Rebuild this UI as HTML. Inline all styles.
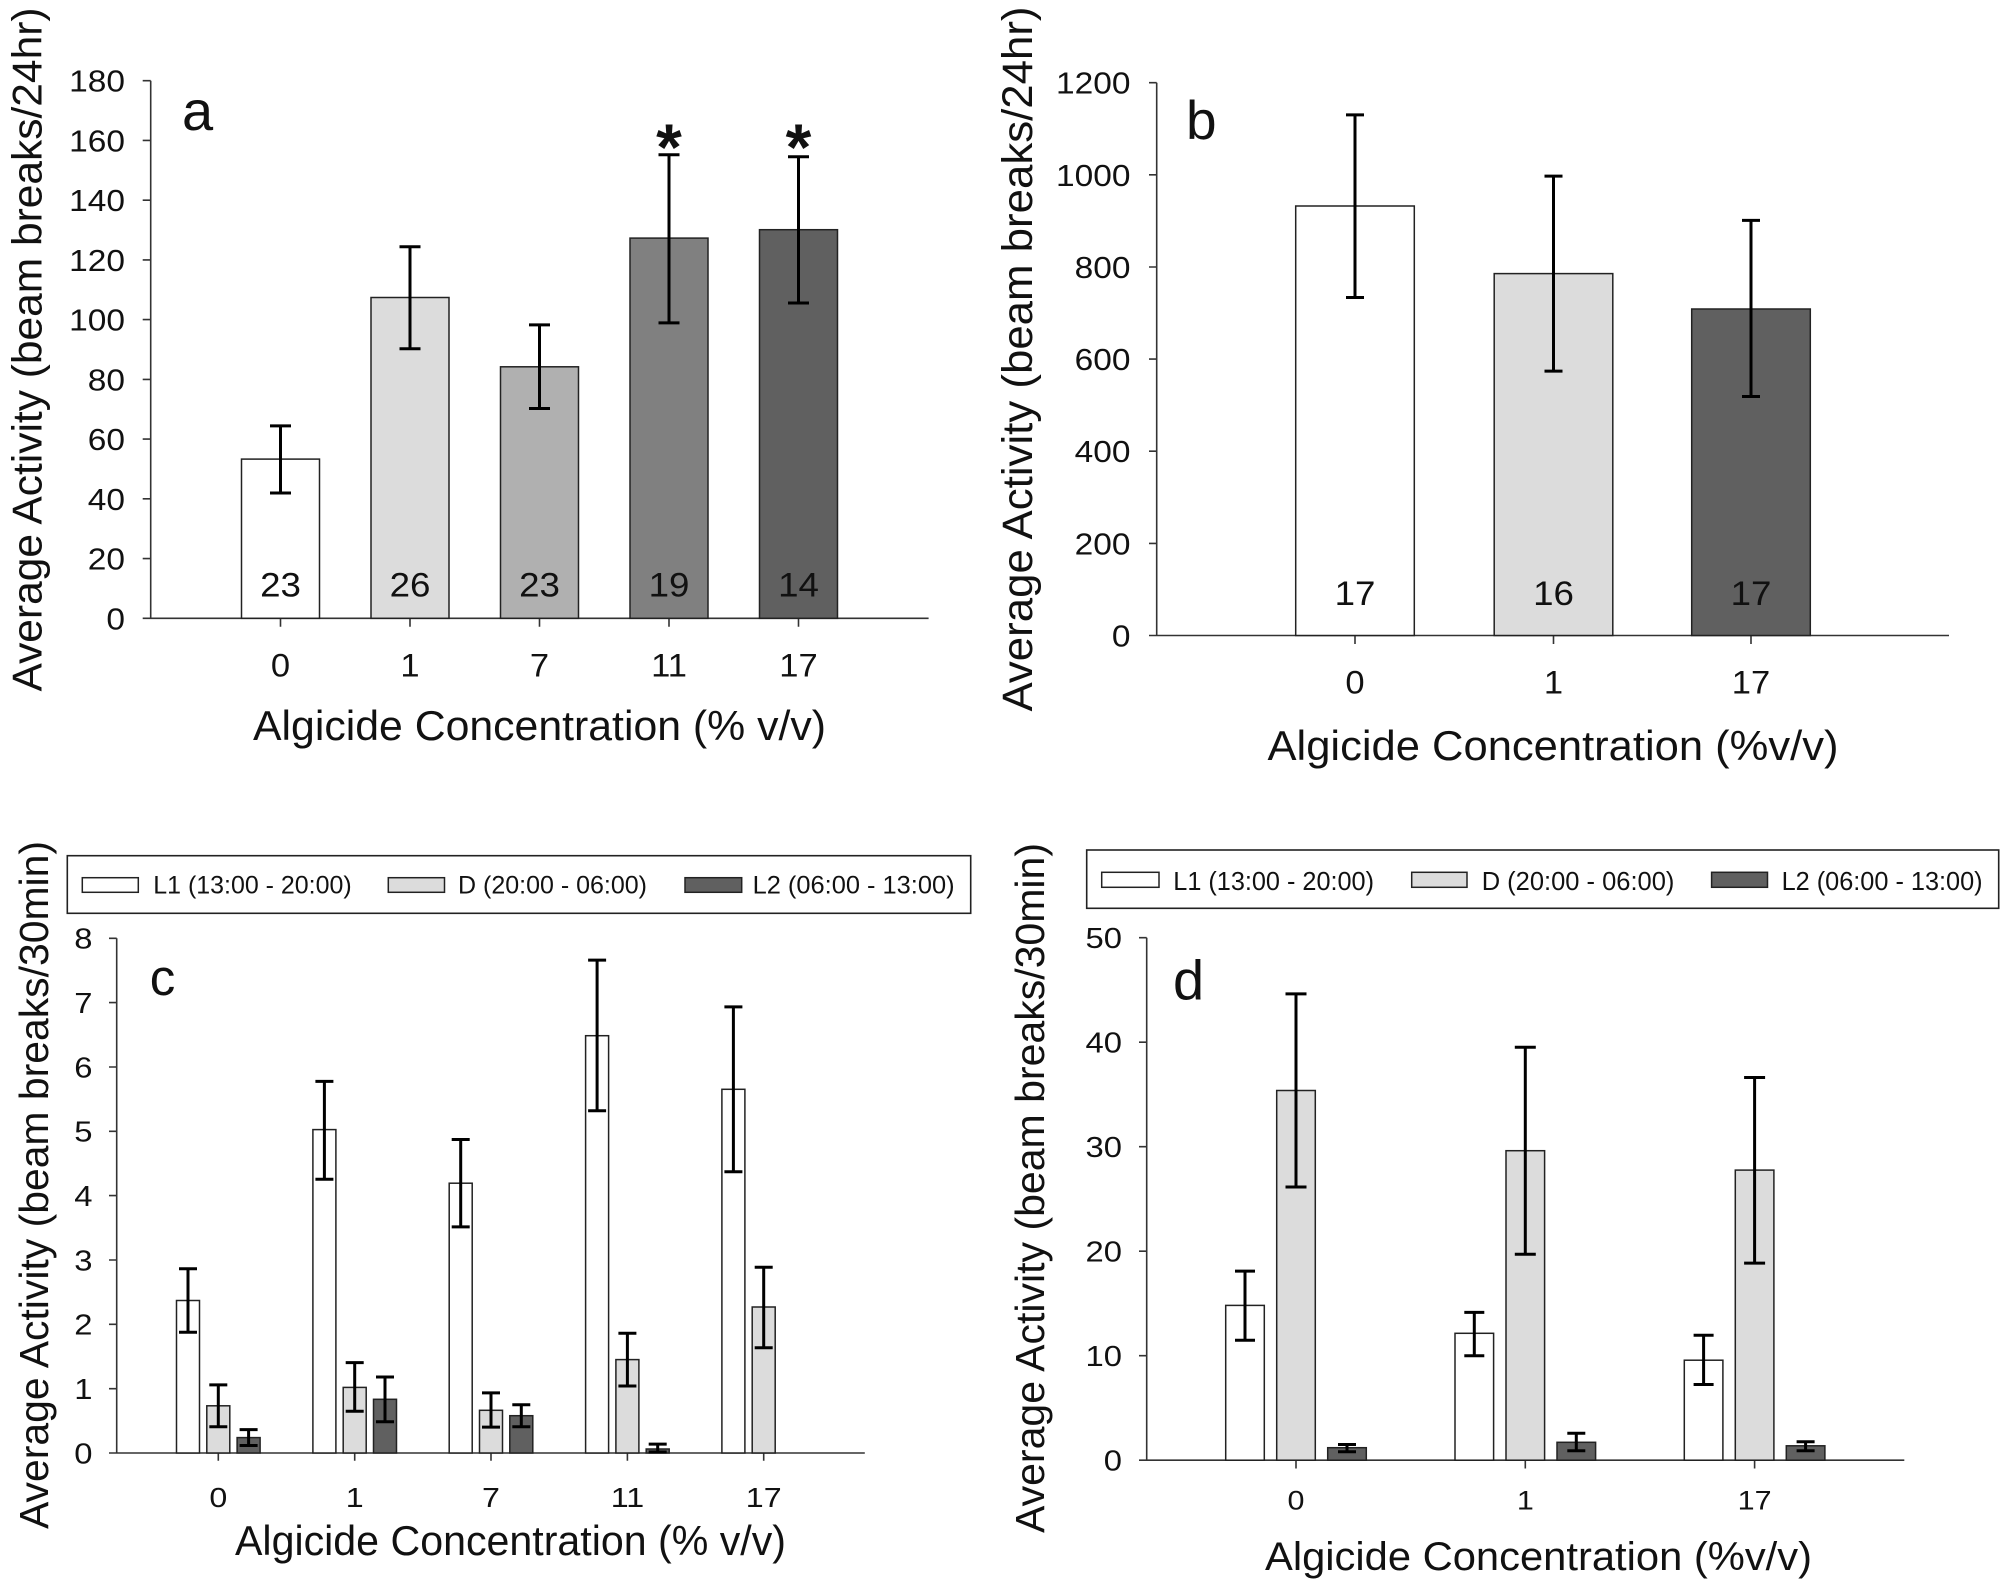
<!DOCTYPE html>
<html>
<head>
<meta charset="utf-8">
<style>
html,body{margin:0;padding:0;background:#fff;}
svg{display:block;}
text{font-family:"Liberation Sans",Arial,sans-serif;fill:#111;}
.ax{stroke:#333;stroke-width:1.6;fill:none;}
.bar{stroke:#222;stroke-width:1.5;}
.eb{stroke:#000;stroke-width:3;fill:none;}
</style>
</head>
<body>
<svg width="2007" height="1590" viewBox="0 0 2007 1590" xmlns="http://www.w3.org/2000/svg">
<rect x="0" y="0" width="2007" height="1590" fill="#fff"/>

<!-- ================= PANEL A ================= -->
<g>
<path class="ax" d="M150.7 80.7 V618.3 M142.7 618.3 H928.6
M142.7 618.3 H150.7 M142.7 558.6 H150.7 M142.7 498.8 H150.7 M142.7 439.1 H150.7 M142.7 379.4 H150.7 M142.7 319.6 H150.7 M142.7 259.9 H150.7 M142.7 200.2 H150.7 M142.7 140.4 H150.7 M142.7 80.7 H150.7
M280.5 618.3 V626.7 M410 618.3 V626.7 M539.5 618.3 V626.7 M669 618.3 V626.7 M798.5 618.3 V626.7"/>
<g transform="translate(125,0) scale(1.08,1)" font-size="31" text-anchor="end">
<text x="0" y="629.3">0</text>
<text x="0" y="569.6">20</text>
<text x="0" y="509.8">40</text>
<text x="0" y="450.1">60</text>
<text x="0" y="390.4">80</text>
<text x="0" y="330.6">100</text>
<text x="0" y="270.9">120</text>
<text x="0" y="211.2">140</text>
<text x="0" y="151.4">160</text>
<text x="0" y="91.7">180</text>
</g>
<g font-size="32" text-anchor="middle">
<text transform="translate(280.5,676.5) scale(1.08,1)">0</text>
<text transform="translate(410,676.5) scale(1.08,1)">1</text>
<text transform="translate(539.5,676.5) scale(1.08,1)">7</text>
<text transform="translate(669,676.5) scale(1.08,1)">11</text>
<text transform="translate(798.5,676.5) scale(1.08,1)">17</text>
</g>
<rect class="bar" x="241.5" y="459.1" width="78" height="159.2" fill="#ffffff"/>
<rect class="bar" x="371" y="297.5" width="78" height="320.8" fill="#dcdcdc"/>
<rect class="bar" x="500.5" y="366.8" width="78" height="251.5" fill="#b0b0b0"/>
<rect class="bar" x="630" y="238.1" width="78" height="380.2" fill="#808080"/>
<rect class="bar" x="759.5" y="229.7" width="78" height="388.6" fill="#606060"/>
<path class="eb" d="M280.5 425.9 V493 M270 425.9 H291 M270 493 H291
M410 246.8 V348.8 M399.5 246.8 H420.5 M399.5 348.8 H420.5
M539.5 324.9 V408.5 M529 324.9 H550 M529 408.5 H550
M669 154.7 V322.9 M658.5 154.7 H679.5 M658.5 322.9 H679.5
M798.5 156.7 V303 M788 156.7 H809 M788 303 H809"/>
<g font-size="34" text-anchor="middle">
<text transform="translate(280.5,596.7) scale(1.08,1)">23</text>
<text transform="translate(410,596.7) scale(1.08,1)">26</text>
<text transform="translate(539.5,596.7) scale(1.08,1)">23</text>
<text transform="translate(669,596.7) scale(1.08,1)">19</text>
<text transform="translate(798.5,596.7) scale(1.08,1)">14</text>
</g>
<text x="669" y="170" font-size="66" font-weight="bold" text-anchor="middle">*</text>
<text x="798.5" y="170" font-size="66" font-weight="bold" text-anchor="middle">*</text>
<text x="182" y="130" font-size="56">a</text>
<text transform="translate(41.7,349.5) rotate(-90)" font-size="42" text-anchor="middle" textLength="684" lengthAdjust="spacingAndGlyphs">Average Activity (beam breaks/24hr)</text>
<text x="539.5" y="740" font-size="42" text-anchor="middle" textLength="573" lengthAdjust="spacingAndGlyphs">Algicide Concentration (% v/v)</text>
</g>

<!-- ================= PANEL B ================= -->
<g>
<path class="ax" d="M1156.7 82.7 V635.5 M1149 635.5 H1949
M1149 635.5 H1156.7 M1149 543.4 H1156.7 M1149 451.2 H1156.7 M1149 359.1 H1156.7 M1149 267 H1156.7 M1149 174.8 H1156.7 M1149 82.7 H1156.7
M1355 635.5 V644 M1553.5 635.5 V644 M1751 635.5 V644"/>
<g transform="translate(1130.5,0) scale(1.08,1)" font-size="31" text-anchor="end">
<text x="0" y="646.5">0</text>
<text x="0" y="554.4">200</text>
<text x="0" y="462.2">400</text>
<text x="0" y="370.1">600</text>
<text x="0" y="278">800</text>
<text x="0" y="185.8">1000</text>
<text x="0" y="93.7">1200</text>
</g>
<g font-size="32" text-anchor="middle">
<text transform="translate(1355,693.5) scale(1.08,1)">0</text>
<text transform="translate(1553.5,693.5) scale(1.08,1)">1</text>
<text transform="translate(1751,693.5) scale(1.08,1)">17</text>
</g>
<rect class="bar" x="1295.7" y="206" width="118.6" height="429.5" fill="#ffffff"/>
<rect class="bar" x="1494.2" y="273.6" width="118.6" height="361.9" fill="#dcdcdc"/>
<rect class="bar" x="1691.7" y="309" width="118.6" height="326.5" fill="#606060"/>
<path class="eb" d="M1355 114.9 V297.5 M1346 114.9 H1364 M1346 297.5 H1364
M1553.5 176.1 V371.1 M1544.5 176.1 H1562.5 M1544.5 371.1 H1562.5
M1751 220.4 V396.5 M1742 220.4 H1760 M1742 396.5 H1760"/>
<g font-size="34" text-anchor="middle">
<text transform="translate(1355,605) scale(1.08,1)">17</text>
<text transform="translate(1553.5,605) scale(1.08,1)">16</text>
<text transform="translate(1751,605) scale(1.08,1)">17</text>
</g>
<text x="1186" y="139" font-size="55">b</text>
<text transform="translate(1032,359) rotate(-90)" font-size="43" text-anchor="middle" textLength="705" lengthAdjust="spacingAndGlyphs">Average Activity (beam breaks/24hr)</text>
<text x="1553" y="760" font-size="42" text-anchor="middle" textLength="571" lengthAdjust="spacingAndGlyphs">Algicide Concentration (%v/v)</text>
</g>

<!-- ================= PANEL C ================= -->
<g>
<rect x="67.3" y="855.7" width="903.4" height="57.6" fill="#fff" stroke="#222" stroke-width="1.6"/>
<rect class="bar" x="82.3" y="877.7" width="56" height="14.6" fill="#ffffff"/>
<rect class="bar" x="388.3" y="877.7" width="56.2" height="14.6" fill="#dcdcdc"/>
<rect class="bar" x="685" y="877.7" width="56.7" height="14.6" fill="#606060"/>
<g font-size="25">
<text x="153.3" y="893.3" textLength="198.4" lengthAdjust="spacingAndGlyphs">L1 (13:00 - 20:00)</text>
<text x="458" y="893.3" textLength="189" lengthAdjust="spacingAndGlyphs">D (20:00 - 06:00)</text>
<text x="752.6" y="893.3" textLength="202" lengthAdjust="spacingAndGlyphs">L2 (06:00 - 13:00)</text>
</g>
<path class="ax" d="M116.7 938.3 V1453 M109 1453 H864.8
M109 1453 H116.7 M109 1388.7 H116.7 M109 1324.3 H116.7 M109 1260 H116.7 M109 1195.6 H116.7 M109 1131.3 H116.7 M109 1067 H116.7 M109 1002.6 H116.7 M109 938.3 H116.7
M218.3 1453 V1460.7 M354.7 1453 V1460.7 M491 1453 V1460.7 M627.4 1453 V1460.7 M763.7 1453 V1460.7"/>
<g transform="translate(92.5,0) scale(1.15,1)" font-size="28.5" text-anchor="end">
<text x="0" y="1463.3">0</text>
<text x="0" y="1399">1</text>
<text x="0" y="1334.6">2</text>
<text x="0" y="1270.3">3</text>
<text x="0" y="1205.9">4</text>
<text x="0" y="1141.6">5</text>
<text x="0" y="1077.3">6</text>
<text x="0" y="1012.9">7</text>
<text x="0" y="948.6">8</text>
</g>
<g font-size="28" text-anchor="middle">
<text transform="translate(218.3,1507) scale(1.15,1)">0</text>
<text transform="translate(354.7,1507) scale(1.15,1)">1</text>
<text transform="translate(491,1507) scale(1.15,1)">7</text>
<text transform="translate(627.4,1507) scale(1.15,1)">11</text>
<text transform="translate(763.7,1507) scale(1.15,1)">17</text>
</g>
<!-- bars -->
<rect class="bar" x="176.5" y="1300.5" width="23" height="152.5" fill="#ffffff"/>
<rect class="bar" x="206.8" y="1405.8" width="23" height="47.2" fill="#dcdcdc"/>
<rect class="bar" x="237.1" y="1437.6" width="23" height="15.4" fill="#606060"/>

<rect class="bar" x="312.9" y="1129.6" width="23" height="323.4" fill="#ffffff"/>
<rect class="bar" x="343.2" y="1387.4" width="23" height="65.6" fill="#dcdcdc"/>
<rect class="bar" x="373.5" y="1399.3" width="23" height="53.7" fill="#606060"/>

<rect class="bar" x="449.2" y="1183.2" width="23" height="269.8" fill="#ffffff"/>
<rect class="bar" x="479.5" y="1410.3" width="23" height="42.7" fill="#dcdcdc"/>
<rect class="bar" x="509.8" y="1415.7" width="23" height="37.3" fill="#606060"/>

<rect class="bar" x="585.6" y="1035.7" width="23" height="417.3" fill="#ffffff"/>
<rect class="bar" x="615.9" y="1359.6" width="23" height="93.4" fill="#dcdcdc"/>
<rect class="bar" x="646.2" y="1449" width="23" height="4" fill="#606060"/>

<rect class="bar" x="721.9" y="1089.3" width="23" height="363.7" fill="#ffffff"/>
<rect class="bar" x="752.2" y="1307" width="23" height="146" fill="#dcdcdc"/>
<path class="eb" d="M188 1268.7 V1332.3 M179 1268.7 H197 M179 1332.3 H197
M218.3 1384.9 V1426.7 M209.3 1384.9 H227.3 M209.3 1426.7 H227.3
M248.6 1429.6 V1445.5 M239.6 1429.6 H257.6 M239.6 1445.5 H257.6
M324.4 1081.4 V1179.2 M315.4 1081.4 H333.4 M315.4 1179.2 H333.4
M354.7 1362.6 V1411.2 M345.7 1362.6 H363.7 M345.7 1411.2 H363.7
M385 1377 V1421.7 M376 1377 H394 M376 1421.7 H394
M460.7 1139.5 V1226.9 M451.7 1139.5 H469.7 M451.7 1226.9 H469.7
M491 1392.9 V1427.1 M482 1392.9 H500 M482 1427.1 H500
M521.3 1404.8 V1426.7 M512.3 1404.8 H530.3 M512.3 1426.7 H530.3
M597.1 960.1 V1110.7 M588.1 960.1 H606.1 M588.1 1110.7 H606.1
M627.4 1333.3 V1386 M618.4 1333.3 H636.4 M618.4 1386 H636.4
M657.7 1444.1 V1452 M648.7 1444.1 H666.7 M648.7 1452 H666.7
M733.4 1006.9 V1171.8 M724.4 1006.9 H742.4 M724.4 1171.8 H742.4
M763.7 1267.2 V1347.7 M754.7 1267.2 H772.7 M754.7 1347.7 H772.7"/>
<text x="149.7" y="995" font-size="51">c</text>
<text transform="translate(48,1185) rotate(-90)" font-size="41" text-anchor="middle" textLength="688" lengthAdjust="spacingAndGlyphs">Average Activity (beam breaks/30min)</text>
<text x="510.5" y="1555" font-size="41.5" text-anchor="middle" textLength="551" lengthAdjust="spacingAndGlyphs">Algicide Concentration (% v/v)</text>
</g>

<!-- ================= PANEL D ================= -->
<g>
<rect x="1086.7" y="850" width="912" height="58.3" fill="#fff" stroke="#222" stroke-width="1.6"/>
<rect class="bar" x="1101.7" y="872.3" width="57.3" height="15" fill="#ffffff"/>
<rect class="bar" x="1411.7" y="872.3" width="55.3" height="15" fill="#dcdcdc"/>
<rect class="bar" x="1711.6" y="872.3" width="55.9" height="15" fill="#606060"/>
<g font-size="25.5">
<text x="1173.3" y="890" textLength="200.7" lengthAdjust="spacingAndGlyphs">L1 (13:00 - 20:00)</text>
<text x="1481.7" y="890" textLength="192.7" lengthAdjust="spacingAndGlyphs">D (20:00 - 06:00)</text>
<text x="1781.6" y="890" textLength="201" lengthAdjust="spacingAndGlyphs">L2 (06:00 - 13:00)</text>
</g>
<path class="ax" d="M1146.7 937.7 V1460.2 M1139 1460.2 H1904.3
M1139 1460.2 H1146.7 M1139 1355.7 H1146.7 M1139 1251.2 H1146.7 M1139 1146.7 H1146.7 M1139 1042.2 H1146.7 M1139 937.7 H1146.7
M1296 1460.2 V1468.5 M1525.3 1460.2 V1468.5 M1754.6 1460.2 V1468.5"/>
<g transform="translate(1122,0) scale(1.15,1)" font-size="28.5" text-anchor="end">
<text x="0" y="1470.5">0</text>
<text x="0" y="1366">10</text>
<text x="0" y="1261.5">20</text>
<text x="0" y="1157">30</text>
<text x="0" y="1052.5">40</text>
<text x="0" y="948">50</text>
</g>
<g font-size="26.5" text-anchor="middle">
<text transform="translate(1296,1509.5) scale(1.15,1)">0</text>
<text transform="translate(1525.3,1509.5) scale(1.15,1)">1</text>
<text transform="translate(1754.6,1509.5) scale(1.15,1)">17</text>
</g>
<rect class="bar" x="1225.7" y="1305.4" width="38.6" height="154.8" fill="#ffffff"/>
<rect class="bar" x="1276.7" y="1090.5" width="38.6" height="369.7" fill="#dcdcdc"/>
<rect class="bar" x="1327.7" y="1447.7" width="38.6" height="12.5" fill="#606060"/>

<rect class="bar" x="1455" y="1333.3" width="38.6" height="126.9" fill="#ffffff"/>
<rect class="bar" x="1506" y="1150.7" width="38.6" height="309.5" fill="#dcdcdc"/>
<rect class="bar" x="1557" y="1442.3" width="38.6" height="17.9" fill="#606060"/>

<rect class="bar" x="1684.3" y="1360.2" width="38.6" height="100" fill="#ffffff"/>
<rect class="bar" x="1735.3" y="1170.1" width="38.6" height="290.1" fill="#dcdcdc"/>
<rect class="bar" x="1786.3" y="1445.8" width="38.6" height="14.4" fill="#606060"/>
<path class="eb" d="M1245 1271.1 V1340.2 M1235 1271.1 H1255 M1235 1340.2 H1255
M1296 993.9 V1187 M1285.5 993.9 H1306.5 M1285.5 1187 H1306.5
M1347 1444.5 V1451.8 M1338 1444.5 H1356 M1338 1451.8 H1356
M1474.3 1312.4 V1355.7 M1464.3 1312.4 H1484.3 M1464.3 1355.7 H1484.3
M1525.3 1047.2 V1254.2 M1514.8 1047.2 H1535.8 M1514.8 1254.2 H1535.8
M1576.3 1433.3 V1450.8 M1567.3 1433.3 H1585.3 M1567.3 1450.8 H1585.3
M1703.6 1335.3 V1384.5 M1693.6 1335.3 H1713.6 M1693.6 1384.5 H1713.6
M1754.6 1077.5 V1263.1 M1744.1 1077.5 H1765.1 M1744.1 1263.1 H1765.1
M1805.6 1441.8 V1450.8 M1796.6 1441.8 H1814.6 M1796.6 1450.8 H1814.6"/>
<text x="1173" y="999.3" font-size="56">d</text>
<text transform="translate(1044,1188) rotate(-90)" font-size="41" text-anchor="middle" textLength="690" lengthAdjust="spacingAndGlyphs">Average Activity (beam breaks/30min)</text>
<text x="1538.5" y="1570" font-size="40" text-anchor="middle" textLength="547" lengthAdjust="spacingAndGlyphs">Algicide Concentration (%v/v)</text>
</g>
</svg>
</body>
</html>
